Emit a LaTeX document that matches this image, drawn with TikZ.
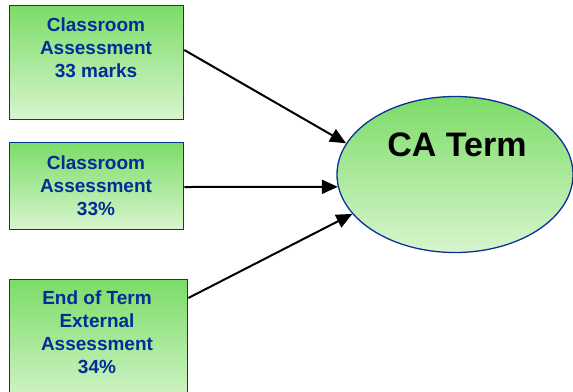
\documentclass[tikz,border=0pt]{standalone}
\usepackage{fontspec}
\setmainfont{Liberation Sans}
\usetikzlibrary{shapes.geometric,arrows.meta,calc}
\definecolor{gtop}{RGB}{124,220,104}
\definecolor{gbot}{RGB}{216,245,206}
\definecolor{bblue}{RGB}{10,50,150}
\definecolor{tblue}{RGB}{0,45,150}
\tikzset{
  box/.style={draw=bblue,line width=1.3bp,rectangle,inner sep=0pt,top color=gtop,bottom color=gbot,anchor=north west},
  lbl/.style={text=tblue,font=\bfseries\fontsize{19bp}{23bp}\selectfont,align=center,inner sep=0pt},
  arr/.style={draw=black,line width=2bp,-{Triangle[length=16bp,width=14bp]}},
}
\begin{document}
\begin{tikzpicture}[x=1bp,y=-1bp]
\useasboundingbox (0,0) rectangle (573,391);
\clip (0,0) rectangle (573,391);
\node[box,minimum width=174bp,minimum height=114bp] (b1) at (9,5) {};
\node[box,minimum width=174bp,minimum height=87bp] (b2) at (9,142) {};
\node[box,minimum width=178bp,minimum height=130bp] (b3) at (9,279) {};
\node[draw=bblue,line width=1.3bp,ellipse,inner sep=0pt,minimum width=236bp,minimum height=156bp,top color=gtop,bottom color=gbot] (ca) at (455,174.5) {};
\node[lbl] (t1) at (96,48) {Classroom\\Assessment\\33 marks};
\node[lbl] (t2) at (96,185.5) {Classroom\\Assessment\\33\%};
\node[lbl] (t3) at (97,332) {End of Term\\External\\Assessment\\34\%};
\node[font=\bfseries\fontsize{34bp}{38bp}\selectfont,inner sep=0pt] (tca) at (457,145) {CA Term};
\draw[arr] ($(b1.north east)+(0,45)$) -- (ca.164);
\draw[arr] ($(b2.north east)+(0,45)$) -- (ca.186.5);
\draw[arr] ($(b3.north east)+(0,19)$) -- (ca.201);
\end{tikzpicture}
\end{document}
